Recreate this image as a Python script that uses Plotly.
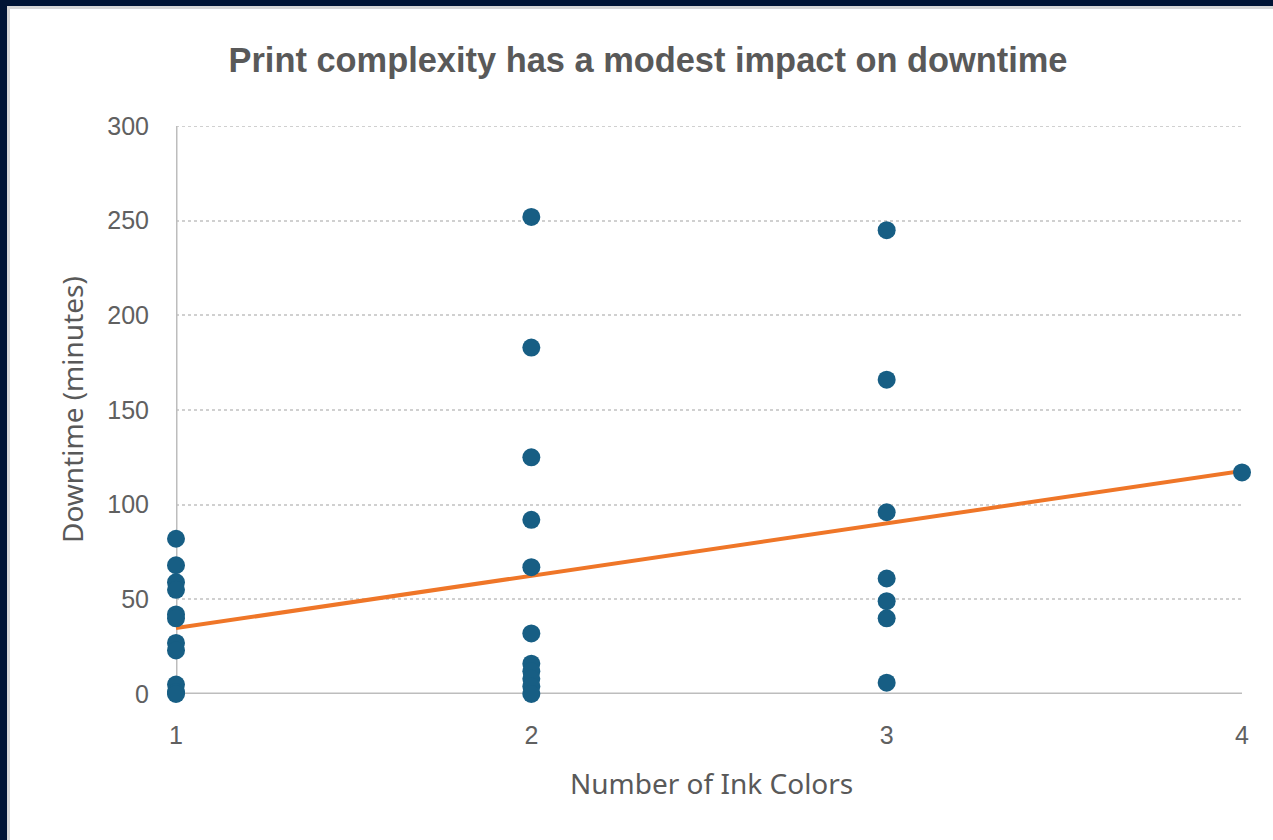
import plotly.graph_objects as go

# Ink colours per job and the downtime it caused (minutes)
ink_colors = [1, 1, 1, 1, 1, 1, 1, 1, 1, 1, 1,
              2, 2, 2, 2, 2, 2, 2, 2, 2, 2, 2,
              3, 3, 3, 3, 3, 3, 3,
              4]
downtime = [82, 68, 59, 55, 42, 40, 27, 23, 5, 1, 0,
            252, 183, 125, 92, 67, 32, 16, 12, 8, 4, 0,
            245, 166, 96, 61, 49, 40, 6,
            117]

# Linear trendline end points
trend_x = [1, 4]
trend_y = [34.8, 117.8]

y_ticks = [0, 50, 100, 150, 200, 250, 300]
x_ticks = [1, 2, 3, 4]

W, H = 1273, 840
L, R, T, B = 176, 1242, 126, 694  # plot area in pixels


def px_x(p):
    return (p - L) / (R - L)


def px_y(p):
    return (B - p) / (B - T)


fig = go.Figure()

# top gridline sits on the range edge, so draw it unclipped
fig.add_trace(go.Scatter(
    x=[1, 4], y=[y_ticks[-1], y_ticks[-1]], mode="lines",
    line=dict(color="#D0D0D0", width=2, dash="dot"),
    showlegend=False, hoverinfo="skip", cliponaxis=False,
))

# axis lines: vertical at x=1, horizontal at y=0
fig.add_trace(go.Scatter(
    x=[1, 1, None, 1, 4], y=[300, 0, None, 0, 0], mode="lines",
    line=dict(color="#BDBDBD", width=3),
    showlegend=False, hoverinfo="skip", cliponaxis=False,
))

fig.add_trace(go.Scatter(
    x=trend_x, y=trend_y, mode="lines",
    line=dict(color="#EF7628", width=4),
    showlegend=False, hoverinfo="skip", cliponaxis=False,
))

fig.add_trace(go.Scatter(
    x=ink_colors, y=downtime, mode="markers",
    marker=dict(color="#175E84", size=18, line=dict(width=0)),
    showlegend=False, cliponaxis=False,
))

# dark frame with a thin grey rim around the white chart card
shapes = [
    dict(type="rect", xref="paper", yref="paper", layer="below",
         x0=px_x(-5), x1=px_x(W + 5), y0=px_y(H + 5), y1=px_y(-5),
         fillcolor="#001435", line=dict(width=0)),
    dict(type="rect", xref="paper", yref="paper", layer="below",
         x0=px_x(7), x1=px_x(W + 5), y0=px_y(H + 5), y1=px_y(6),
         fillcolor="#D6D6D6", line=dict(width=0)),
    dict(type="rect", xref="paper", yref="paper", layer="below",
         x0=px_x(10), x1=px_x(W + 5), y0=px_y(H + 5), y1=px_y(9),
         fillcolor="#FFFFFF", line=dict(width=0)),
]

title_font = dict(family="Noto Sans, sans-serif", size=28, color="#595959")
annotations = [
    dict(text="Number of Ink Colors", xref="paper", yref="paper",
         x=px_x(711), y=px_y(783), xanchor="center", yanchor="middle",
         showarrow=False, font=title_font),
    dict(text="Downtime (minutes)", xref="paper", yref="paper",
         x=px_x(72), y=px_y(410), xanchor="center", yanchor="middle",
         textangle=-90, showarrow=False, font=title_font),
]

fig.update_layout(
    width=W, height=H,
    margin=dict(l=L, r=W - R, t=T, b=H - B),
    paper_bgcolor="#001435",
    plot_bgcolor="rgba(0,0,0,0)",
    shapes=shapes,
    annotations=annotations,
    title=dict(
        text="<b>Print complexity has a modest impact on downtime</b>",
        x=648 / W, xanchor="center", xref="container",
        y=1 - 60 / H, yanchor="middle", yref="container",
        font=dict(family="Liberation Sans, Arial, sans-serif", size=34.4, color="#595959"),
    ),
    font=dict(family="Liberation Sans, Arial, sans-serif", color="#595959"),
)

fig.update_xaxes(
    range=[1, 4], tickvals=x_ticks, ticktext=[str(v) for v in x_ticks],
    showgrid=False, zeroline=False,
    showline=False, ticks="", ticklen=0, ticklabelstandoff=24,
    tickfont=dict(size=25, color="#606060"),
)

fig.update_yaxes(
    range=[0, 300], tickvals=y_ticks, ticktext=[str(v) for v in y_ticks],
    showgrid=True, gridcolor="#D0D0D0", gridwidth=2, griddash="dot",
    zeroline=False, showline=False, ticks="", ticklabelstandoff=26,
    tickfont=dict(size=25, color="#606060"),
)

fig.write_html("out.html")
